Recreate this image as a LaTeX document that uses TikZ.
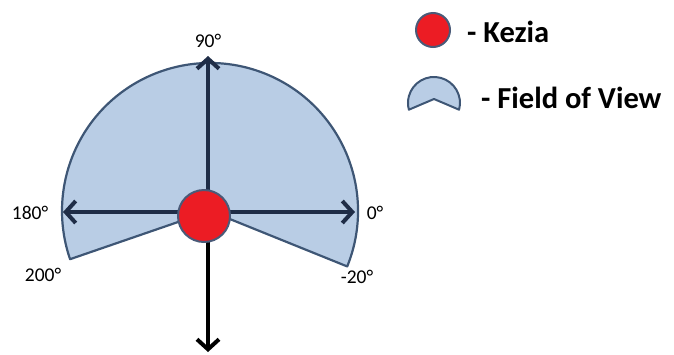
\documentclass[tikz,border=0pt]{standalone}
\usepackage{fontspec}
\setmainfont{Carlito}
\usetikzlibrary{arrows.meta}
\definecolor{fanfill}{HTML}{B9CDE5}
\definecolor{fanedge}{HTML}{3E5675}
\definecolor{axis}{HTML}{1F2D47}
\definecolor{kred}{HTML}{EC1C24}
\definecolor{kedge}{HTML}{4A5A78}
\tikzset{
  fan/.style={fill=fanfill,draw=fanedge,line width=2.2pt,line join=round},
  axisarrow/.style={draw=axis,line width=4pt,-{Straight Barb[length=10pt,width=22pt]}},
  downarrow/.style={draw=black,line width=4pt,-{Straight Barb[length=10pt,width=22pt]}},
  kezia/.style={circle,fill=kred,draw=kedge,line width=2pt,inner sep=0pt},
  deg/.style={font=\fontsize{19.5}{22}\selectfont,inner sep=0pt},
  legend/.style={font=\fontsize{30.5}{34}\selectfont\bfseries,inner sep=0pt,anchor=west}
}
\begin{document}
\begin{tikzpicture}[x=1pt,y=-1pt]
\useasboundingbox (0,0) rectangle (674,354);
% field of view
\coordinate (fc) at (210,211);
\coordinate (c) at (208,212);
\draw[fan] (fc) -- ++(22:148) arc[start angle=22, end angle=-199, radius=148] -- cycle;
% axes
\coordinate (top) at (208,56);
\coordinate (left) at (63,212);
\coordinate (right) at (355,212);
\coordinate (bottom) at (208,352);
\draw[axisarrow] (c) -- (top);
\draw[axisarrow] (c) -- (left);
\draw[axisarrow] (c) -- (right);
\draw[downarrow] (c) -- (bottom);
% Kezia
\node[kezia,minimum size=52pt] (k) at (204,216) {};
% angle labels
\node[deg] (l90) at (208,41) {90°};
\node[deg] (l180) at (30,213) {180°};
\node[deg] (l0) at (375,213) {0°};
\node[deg] (l200) at (43,275) {200°};
\node[deg] (l20) at (357,277) {-20°};
% legend
\node[kezia,minimum size=34pt] (lk) at (433,30) {};
\node[legend] (tk) at (467,32) {- Kezia};
\draw[fan,line width=2pt] (434,99) coordinate (ic) -- (434+25.1,103+6.7)
  arc[start angle=15, end angle=-195, radius=26] -- cycle;
\node[legend] (tf) at (481,98) {- Field of View};
\end{tikzpicture}
\end{document}
